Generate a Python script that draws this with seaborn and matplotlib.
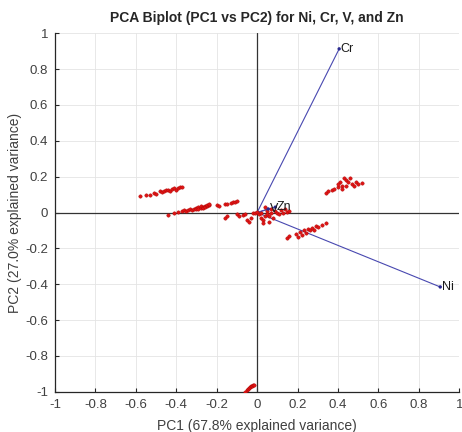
import matplotlib
matplotlib.use('Agg')
import matplotlib.pyplot as plt
import seaborn as sns
import numpy as np
import pandas as pd

# loadings of the four metals on PC1 / PC2
variables = ['Ni', 'Cr', 'V', 'Zn']
load_pc1 = [0.906, 0.406, 0.055, 0.090]
load_pc2 = [-0.415, 0.913, 0.020, 0.030]

# sample scores
score_pc1 = [
    # left upper band
    -0.58, -0.55, -0.53, -0.51, -0.50, -0.48, -0.47, -0.46, -0.45, -0.44,
    -0.43, -0.42, -0.41, -0.40, -0.39, -0.38, -0.37,
    # left lower band
    -0.44, -0.41, -0.39, -0.37, -0.36, -0.35, -0.34, -0.33, -0.32, -0.31,
    -0.30, -0.30, -0.29, -0.29, -0.28, -0.28, -0.27, -0.27, -0.26, -0.26,
    -0.25, -0.25, -0.24, -0.24,
    # short band
    -0.20, -0.19, -0.16, -0.15, -0.13, -0.12, -0.11, -0.10,
    # loose points left of origin
    -0.16, -0.15, -0.10, -0.09, -0.07, -0.06, -0.05, -0.04, -0.03, -0.02, -0.01,
    # around origin
    0.00, 0.01, 0.02, 0.02, 0.03, 0.04, 0.05, 0.05, 0.06, 0.07, 0.08, 0.09,
    0.10, 0.11, 0.12, 0.13, 0.14, 0.15, 0.16, 0.04, 0.07, 0.03, 0.06,
    # upper right cluster
    0.34, 0.35, 0.37, 0.38, 0.40, 0.41, 0.42, 0.43, 0.44, 0.44, 0.45, 0.46,
    0.47, 0.48, 0.49, 0.50, 0.52, 0.40, 0.42,
    # lower right cluster
    0.15, 0.16, 0.19, 0.21, 0.22, 0.23, 0.24, 0.25, 0.26, 0.27, 0.28, 0.29,
    0.30, 0.32, 0.34, 0.20,
    # bottom
    -0.06, -0.05, -0.045, -0.04, -0.035, -0.03, -0.025, -0.02, -0.015,
]
score_pc2 = [
    0.090, 0.100, 0.098, 0.110, 0.105, 0.118, 0.112, 0.120, 0.125, 0.128,
    0.122, 0.130, 0.135, 0.128, 0.138, 0.140, 0.142,
    -0.012, 0.000, 0.005, 0.008, 0.012, 0.010, 0.015, 0.018, 0.014, 0.020,
    0.025, 0.018, 0.030, 0.022, 0.028, 0.035, 0.032, 0.025, 0.038, 0.030,
    0.035, 0.042, 0.040, 0.045,
    0.040, 0.035, 0.045, 0.050, 0.055, 0.060, 0.058, 0.065,
    -0.030, -0.020, -0.010, -0.020, -0.015, -0.010, -0.040, -0.050, -0.030, -0.005, 0.000,
    0.005, -0.010, 0.000, -0.030, -0.040, -0.020, 0.010, -0.010, -0.020, 0.000, -0.030, 0.010,
    0.000, -0.010, 0.015, 0.000, 0.020, 0.005, 0.010, 0.030, 0.020, -0.060, -0.050,
    0.110, 0.120, 0.125, 0.130, 0.140, 0.170, 0.150, 0.190, 0.180, 0.150, 0.170, 0.190,
    0.160, 0.150, 0.170, 0.160, 0.165, 0.160, 0.130,
    -0.140, -0.130, -0.120, -0.110, -0.125, -0.100, -0.115, -0.090, -0.100, -0.085, -0.095, -0.075,
    -0.080, -0.070, -0.060, -0.135,
    -1.000, -0.990, -0.985, -0.980, -0.975, -0.970, -0.965, -0.962, -0.960,
]

ticks = [-1, -0.8, -0.6, -0.4, -0.2, 0, 0.2, 0.4, 0.6, 0.8, 1]

scores = pd.DataFrame({'PC1': score_pc1, 'PC2': score_pc2})
loadings = pd.DataFrame({'var': variables, 'PC1': load_pc1, 'PC2': load_pc2})

sns.set_style('whitegrid')
plt.rcParams['font.family'] = ['Liberation Sans', 'DejaVu Sans']

fig = plt.figure(figsize=(4.62, 4.32), dpi=100)
ax = fig.add_axes([0.119, 0.093, 0.875, 0.830])

# loading vectors
for _, row in loadings.iterrows():
    ax.plot([0, row['PC1']], [0, row['PC2']], color='#4848b0', linewidth=0.8, zorder=3)
sns.scatterplot(data=loadings, x='PC1', y='PC2', color='#2a2a90', s=6,
                edgecolor='none', ax=ax, zorder=4)
for _, row in loadings.iterrows():
    ax.text(row['PC1'] + 0.008, row['PC2'], row['var'], fontsize=9,
            color='#1a1a1a', va='center', ha='left', zorder=5)

sns.scatterplot(data=scores, x='PC1', y='PC2', color='#dd1515', s=6,
                edgecolor='#b00000', linewidth=0.3, ax=ax, zorder=3)

ax.axhline(0, color='#333333', linewidth=0.9, zorder=2)
ax.axvline(0, color='#333333', linewidth=0.9, zorder=2)

ax.set_xlim(-1, 1)
ax.set_ylim(-1, 1)
ax.set_xticks(ticks)
ax.set_yticks(ticks)
ax.set_xticklabels(['%g' % t for t in ticks])
ax.set_yticklabels(['%g' % t for t in ticks])
ax.tick_params(direction='in', length=3, width=0.8, color='#262626',
               labelcolor='#404040', labelsize=9.5, pad=5, bottom=True, left=True)
ax.grid(color='#e4e4e4', linewidth=0.6)
for side in ['top', 'right']:
    ax.spines[side].set_visible(False)
for side in ['left', 'bottom']:
    ax.spines[side].set_color('#262626')
    ax.spines[side].set_linewidth(0.9)

ax.set_title('PCA Biplot (PC1 vs PC2) for Ni, Cr, V, and Zn', fontsize=10,
             fontweight='bold', pad=8)
ax.set_xlabel('PC1 (67.8% explained variance)', fontsize=10, color='#404040', labelpad=6)
ax.set_ylabel('PC2 (27.0% explained variance)', fontsize=10, color='#404040', labelpad=2)

fig.savefig('out.png', dpi=100)
